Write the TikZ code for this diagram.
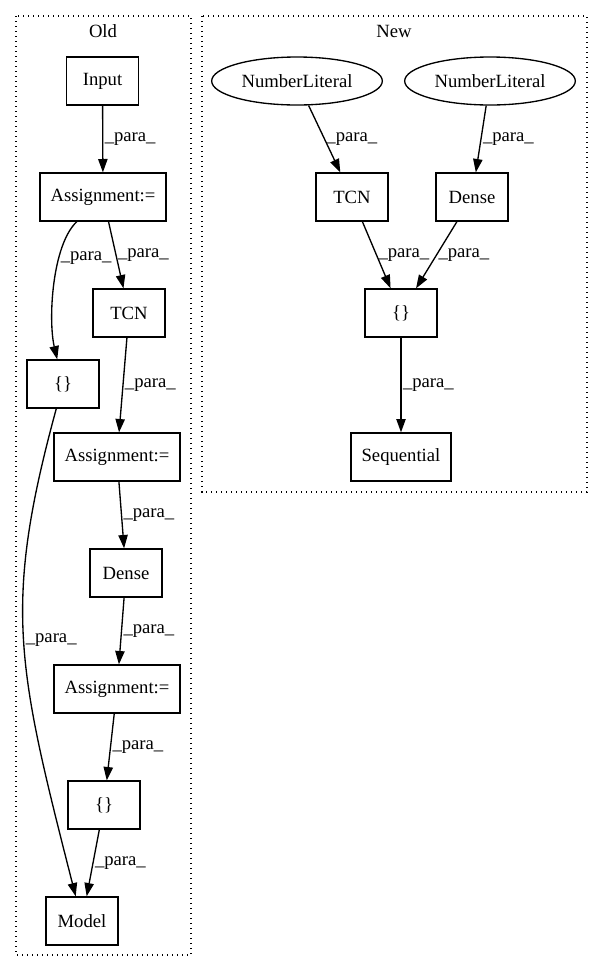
\documentclass[tikz,border=0pt]{standalone}
\usepackage{fontspec}
\setmainfont{Liberation Serif}
\usetikzlibrary{arrows.meta,shapes.geometric}

\begin{document}
\begin{tikzpicture}[x=0.75pt,y=-0.75pt,
        font=\fontsize{14}{16}\selectfont,
        box/.style={draw,line width=1pt,minimum width=54pt,minimum height=36pt,inner xsep=8pt},
        lit/.style={draw,ellipse,line width=1pt,minimum width=128pt,minimum height=36pt,inner sep=0pt},
        edge/.style={-{Triangle[length=10pt,width=7pt]},line width=1pt},
        para/.style={anchor=west,inner sep=1pt},
        cluster/.style={line width=1pt,dash pattern=on 1pt off 2.75pt}]
        \useasboundingbox (0,0) rectangle (603,972);

        % Old
        \draw [cluster] (16,16) rectangle (191,955);
        \node at (103,31) (old){Old};
        \node [box] at (102.5,81) (in){Input};
        \node [box] at (103,197) (a1){Assignment:=};
        \node [box] at (129,313) (tcn){TCN};
        \node [box] at (63,384) (br1){\{\}};
        \node [box] at (117,457) (a2){Assignment:=};
        \node [box] at (126,573) (dn){Dense};
        \node [box] at (117,689) (a3){Assignment:=};
        \node [box] at (104,805) (br2){\{\}};
        \node [box] at (82,921) (mdl){Model};

        \draw [edge] (in) -- node [para,midway] {\_para\_} (a1);
        \draw [edge] (a1) .. controls (52,245) and (48,320) .. node [para,pos=0.33] {\_para\_} (br1);
        \draw [edge] (a1) -- node [para,midway] {\_para\_} (tcn);
        \draw [edge] (tcn) -- node [para,midway] {\_para\_} (a2);
        \draw [edge] (br1) .. controls (2.5,606) and (17,666) .. node [para,midway] {\_para\_} (mdl);
        \draw [edge] (a2) -- node [para,midway] {\_para\_} (dn);
        \draw [edge] (dn) -- node [para,midway] {\_para\_} (a3);
        \draw [edge] (a3) -- node [para,midway] {\_para\_} (br2);
        \draw [edge] (br2) -- node [para,midway] {\_para\_} (mdl);

        % New
        \draw [cluster] (202,16) rectangle (587,492);
        \node at (394,31) (new){New};
        \node [lit] at (297,81) (nl1){NumberLiteral};
        \node [lit] at (490,81) (nl2){NumberLiteral};
        \node [box] at (352,197) (tcn2){TCN};
        \node [box] at (472,197) (dn2){Dense};
        \node [box] at (401,313) (br3){\{\}};
        \node [box] at (401,457) (seq){Sequential};

        \draw [edge] (nl1) -- node [para,midway] {\_para\_} (tcn2);
        \draw [edge] (nl2) -- node [para,midway] {\_para\_} (dn2);
        \draw [edge] (tcn2) -- node [para,midway] {\_para\_} (br3);
        \draw [edge] (dn2) -- node [para,midway] {\_para\_} (br3);
        \draw [edge] (br3) -- node [para,midway] {\_para\_} (seq);
\end{tikzpicture}
\end{document}
